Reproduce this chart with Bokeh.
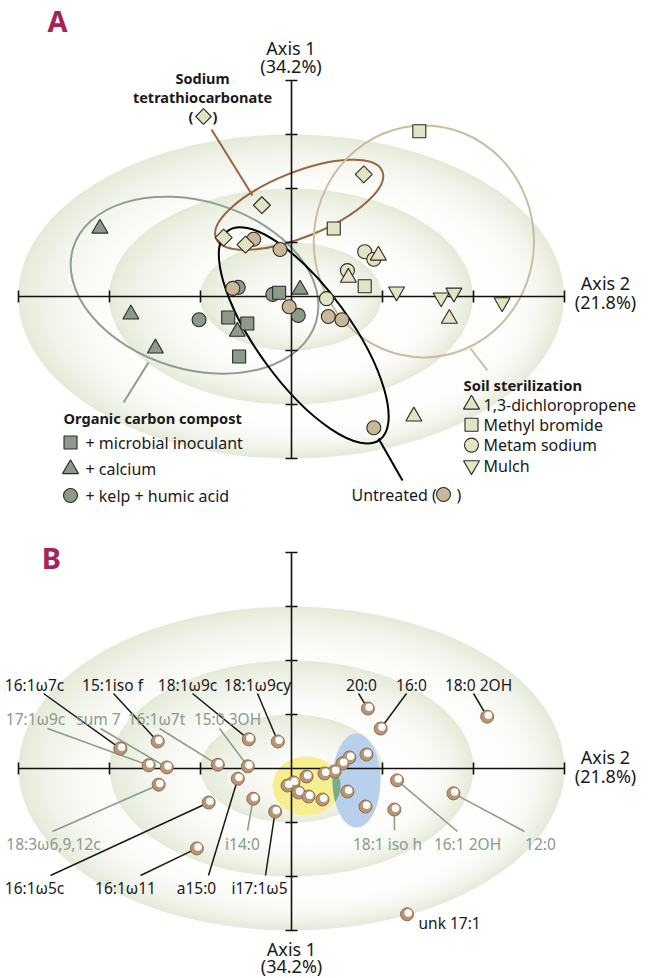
import numpy as np
from bokeh.plotting import figure
from bokeh.layouts import column
from bokeh.models import LinearAxis, FixedTicker, Range1d
from bokeh.core.properties import value
from bokeh.embed import file_html
from bokeh.resources import INLINE

# ================= DATA (ordination scores, in axis-tick units) =================
# ---- Panel A : treatments ----
tetrathio_x = [-0.32, 0.80, -0.74, -0.50]
tetrathio_y = [1.69, 2.26, 1.09, 0.96]
mbromide_x = [1.41, 0.47, 0.81]
mbromide_y = [3.06, 1.26, 0.19]
metam_x = [0.81, 0.91, 0.62, 0.39]
metam_y = [0.83, 0.69, 0.48, -0.04]
dichloro_x = [0.96, 0.63, 1.74, 1.35]
dichloro_y = [0.76, 0.35, -0.41, -2.22]
mulch_x = [1.16, 1.65, 1.79, 2.32]
mulch_y = [0.09, -0.02, 0.07, -0.11]
untreated_x = [-0.41, -0.12, -0.64, -0.02, 0.41, 0.56, 0.91]
untreated_y = [1.06, 0.87, 0.15, -0.19, -0.37, -0.43, -2.43]
inoculant_x = [-0.13, -0.69, -0.48, -0.57]
inoculant_y = [0.07, -0.39, -0.50, -1.11]
calcium_x = [-2.10, -1.76, -1.49, -0.59, 0.10]
calcium_y = [1.26, -0.33, -0.96, -0.65, 0.13]
kelp_x = [-0.58, -0.20, 0.08, -1.01]
kelp_y = [0.17, 0.04, -0.35, -0.43]

# group ellipses: centre, full width / height (axis units), angle (deg)
ell_group = ["compost", "tetrathio", "sterilization", "untreated"]
ell_cx = [-1.06, 0.09, 1.46, 0.14]
ell_cy = [0.21, 1.70, 1.02, -0.72]
ell_w = [2.79, 1.97, 2.42, 2.84]
ell_h = [3.11, 1.20, 4.30, 1.74]
ell_angle = [-17, 22, 0, -54]

# ---- Panel B : fatty acids ----
fa_names = ["16:1ω7c", "15:1iso f", "18:1ω9c", "18:1ω9cy", "20:0", "16:0", "18:0 2OH",
            "17:1ω9c", "sum 7", "16:1ω7t", "15:0 3OH",
            "18:3ω6,9,12c", "i14:0", "18:1 iso h", "16:1 2OH", "12:0",
            "16:1ω5c", "16:1ω11", "a15:0", "i17:1ω5", "unk 17:1"]
fa_x = [-1.88, -1.47, -0.47, -0.15, 0.84, 0.98, 2.15,
        -1.57, -1.37, -0.81, -0.48,
        -1.46, -0.42, 1.13, 1.16, 1.78,
        -0.91, -1.04, -0.59, -0.18, 1.27]
fa_y = [0.37, 0.50, 0.54, 0.50, 1.11, 0.74, 0.96,
        0.06, 0.02, 0.07, 0.04,
        -0.30, -0.56, -0.76, -0.22, -0.46,
        -0.63, -1.48, -0.19, -0.80, -2.70]
fa_major = [True] * 7 + [False] * 4 + [False] * 5 + [True] * 4 + [True]
cluster_x = [0.165, 0.363, 0.473, 0.560, 0.637, 0.824, -0.044, 0.022, 0.077, 0.187, 0.341, 0.615, 0.813]
cluster_y = [-0.148, -0.093, -0.056, 0.093, 0.204, 0.259, -0.315, -0.259, -0.444, -0.519, -0.574, -0.426, -0.704]
zone_cx = [0.165, 0.714]
zone_cy = [-0.324, -0.222]
zone_w = [0.747, 0.527]
zone_h = [1.093, 1.741]

# ================= LAYOUT =================
W = 654
SX, SY = 91.0, 54.0
FONT = value("Noto Sans")
BLACK = "#1a1a1a"
GREY = "#8a9a8b"
DARK = "#8b9a89"
LIGHT = "#e3e4c1"
TAN = "#c9b897"
EDGE = "#2a2a2a"
DESC = 0.29  # baseline correction (fraction of font size)


class Panel:
    def __init__(self, top, height, ox, oy, ybot, ytop):
        self.top, self.ox, self.oy = top, ox, oy
        x0 = (0 - ox) / SX
        x1 = (W - ox) / SX
        y1 = (oy - top) / SY
        y0 = (oy - top - height) / SY
        p = figure(width=W, height=height, x_range=Range1d(x0, x1), y_range=Range1d(y0, y1),
                   output_backend="svg", toolbar_location=None, x_axis_type=None, y_axis_type=None,
                   min_border=0, outline_line_color=None)
        p.background_fill_color = "white"
        p.border_fill_color = "white"
        self.p = p
        self.rings()
        self.axes(ybot, ytop)

    def X(self, px):
        return (px - self.ox) / SX

    def Y(self, py):
        return (self.oy - py) / SY

    def rings(self):
        N = 30
        g = np.array([229, 235, 217], float)
        wh = np.array([253, 253, 251], float)
        xs, ys, ws, cs = [], [], [], []
        for k in (3, 2, 1):
            for i in range(N):
                t = 1 - i / N
                d = 1 - t
                r = (k - 1) + t
                f = t ** 2.3
                c = wh + (g - wh) * f
                xs.append(0.28 * d)
                ys.append(-0.28 * d)
                ws.append(2 * r)
                cs.append("#%02x%02x%02x" % tuple(int(round(v)) for v in c))
        self.p.ellipse(x=xs, y=ys, width=ws, height=ws, fill_color=cs, line_color=None)

    def axes(self, ybot, ytop):
        common = dict(fixed_location=0, axis_line_width=1.6, axis_line_color="#111111",
                      major_tick_line_width=1.6, major_tick_line_color="#111111",
                      major_tick_in=6, major_tick_out=6, minor_tick_line_color=None,
                      major_label_text_font_size="0px", major_label_text_color=None,
                      major_label_standoff=0)
        xa = LinearAxis(ticker=FixedTicker(ticks=[-3, -2, -1, 1, 2, 3]), bounds=(-3, 3), **common)
        ya = LinearAxis(ticker=FixedTicker(ticks=[t for t in range(ybot, ytop + 1) if t != 0]),
                        bounds=(ybot, ytop), **common)
        self.p.add_layout(xa, "below")
        self.p.add_layout(ya, "left")

    def text(self, px, py, s, size, color=BLACK, bold=False, align="left"):
        r = self.p.text(x=[self.X(px)], y=[self.Y(py - DESC * size)], text=[s], text_font=FONT,
                        text_font_size=f"{size}px", text_font_style="bold" if bold else "normal",
                        text_color=color, text_align=align, text_baseline="alphabetic")
        r.level = "overlay"

    def line(self, p0, p1, color, width=2.0):
        r = self.p.line(x=[self.X(p0[0]), self.X(p1[0])], y=[self.Y(p0[1]), self.Y(p1[1])],
                        line_color=color, line_width=width)
        r.level = "overlay"

    def mark(self, x, y, marker, fill, size, angle=0.0):
        r = self.p.scatter(x=x, y=y, marker=marker, size=size, fill_color=fill, line_color=EDGE,
                           line_width=1.1, angle=angle)
        r.level = "overlay"


# ================= PANEL A =================
A = Panel(top=0, height=520, ox=290.5, oy=296, ybot=-3, ytop=4)
pa = A.p
ell_colors = {"compost": "#8e9e93", "tetrathio": "#99643f", "sterilization": "#cdbd9f", "untreated": "#000000"}
for g, cx, cy, w, h, a in zip(ell_group, ell_cx, ell_cy, ell_w, ell_h, ell_angle):
    pa.ellipse(x=[cx], y=[cy], width=[w], height=[h], angle=[a], angle_units="deg",
               fill_color=None, line_color=ell_colors[g], line_width=2)

# leader lines
A.line((211, 129), (252, 195), ell_colors["tetrathio"])
A.line((123, 402), (148, 362), ell_colors["compost"])
A.line((487, 370), (470, 348), ell_colors["sterilization"])
A.line((402, 480), (378, 438), ell_colors["untreated"])

# points
A.mark(kelp_x, kelp_y, "circle", DARK, 14)
A.mark(inoculant_x, inoculant_y, "square", DARK, 13)
A.mark(calcium_x, calcium_y, "triangle", DARK, 16)
A.mark(untreated_x, untreated_y, "circle", TAN, 14)
A.mark(metam_x, metam_y, "circle", LIGHT, 14)
A.mark(dichloro_x, dichloro_y, "triangle", LIGHT, 16)
A.mark(mbromide_x, mbromide_y, "square", LIGHT, 13)
A.mark(mulch_x, mulch_y, "inverted_triangle", LIGHT, 16)
A.mark(tetrathio_x, tetrathio_y, "square", LIGHT, 12, angle=np.pi / 4)

# texts
A.text(57, 28, "A", 29, color="#a3235a", bold=True, align="center")
A.text(290.5, 53, "Axis 1", 18, align="center")
A.text(290.5, 71, "(34.2%)", 18, align="center")
A.text(605, 288, "Axis 2", 18, align="center")
A.text(605, 307, "(21.8%)", 18, align="center")
A.text(202, 82, "Sodium", 14.5, bold=True, align="center")
A.text(202, 101, "tetrathiocarbonate", 14.5, bold=True, align="center")
A.text(193, 120, "(", 14.5, bold=True, align="right")
A.text(212, 120, ")", 14.5, bold=True, align="left")
A.mark([A.X(203)], [A.Y(116)], "square", LIGHT, 11, angle=np.pi / 4)

A.text(463, 389, "Soil sterilization", 14.8, bold=True)
soil_items = [("triangle", 16, "1,3-dichloropropene"), ("square", 13, "Methyl bromide"),
              ("circle", 14, "Metam sodium"), ("inverted_triangle", 16, "Mulch")]
for i, (m, s, lab) in enumerate(soil_items):
    yb = 409 + i * 20.3
    A.mark([A.X(471)], [A.Y(yb - 5)], m, LIGHT, s)
    A.text(483, yb, lab, 16)

A.text(63, 422, "Organic carbon compost", 14.6, bold=True)
comp_items = [("square", 13, "+ microbial inoculant"), ("triangle", 16, "+ calcium"),
              ("circle", 14, "+ kelp + humic acid")]
for i, (m, s, lab) in enumerate(comp_items):
    yb = 447 + i * 26.5
    A.mark([A.X(70)], [A.Y(yb - 5)], m, DARK, s)
    A.text(85, yb, lab, 16)

A.text(351, 499, "Untreated (", 16)
A.text(456, 499, ")", 16)
A.mark([A.X(443)], [A.Y(494)], "circle", TAN, 14)

# ================= PANEL B =================
B = Panel(top=520, height=458, ox=291, oy=768, ybot=-3, ytop=4)
pb = B.p


def ell_pts(cx, cy, w, h, n=360):
    t = np.linspace(0, 2 * np.pi, n, endpoint=False)
    return cx + w / 2 * np.cos(t), cy + h / 2 * np.sin(t)


def inside(x, y, cx, cy, w, h):
    return ((x - cx) / (w / 2)) ** 2 + ((y - cy) / (h / 2)) ** 2 <= 1


zone_colors = ["#f6ee8f", "#b9d0ec"]
for cx, cy, w, h, c in zip(zone_cx, zone_cy, zone_w, zone_h, zone_colors):
    pb.ellipse(x=[cx], y=[cy], width=[w], height=[h], fill_color=c, line_color=None)
yx, yy = ell_pts(zone_cx[0], zone_cy[0], zone_w[0], zone_h[0])
bx, by = ell_pts(zone_cx[1], zone_cy[1], zone_w[1], zone_h[1])
m1 = inside(yx, yy, zone_cx[1], zone_cy[1], zone_w[1], zone_h[1])
m2 = inside(bx, by, zone_cx[0], zone_cy[0], zone_w[0], zone_h[0])
ix = np.concatenate([yx[m1], bx[m2]])
iy = np.concatenate([yy[m1], by[m2]])
mx, my = ix.mean(), iy.mean()
order = np.argsort(np.arctan2((iy - my) * SY, (ix - mx) * SX))
pb.patch(x=ix[order], y=iy[order], fill_color="#78ad8a", line_color=None)

# label layout: (text centre x, baseline y, leader start x, leader start y) in page pixels
LAB = [(34, 689, 43, 693), (112, 689, 113, 693), (187, 689, 192, 693), (257, 689, 257, 693),
       (361, 689, 358, 693), (411, 689, 406, 693), (478, 689, 473, 693),
       (35, 723, 47, 728), (98, 723, 100, 728), (156, 723, 159, 728), (227, 723, 219, 728),
       (53, 848, 52, 831), (242, 848, 247, 830), (387, 848, 394, 830), (467, 848, 457, 831), (540, 848, 524, 831),
       (34, 892, 50, 875), (125, 892, 140, 875), (196, 892, 208, 875), (259, 892, 265, 875),
       (418, 927, None, None)]

for name, x, y, major, (tx, ty, ax, ay) in zip(fa_names, fa_x, fa_y, fa_major, LAB):
    col = BLACK if major else GREY
    if ax is not None:
        r = pb.line(x=[B.X(ax), x], y=[B.Y(ay), y], line_color=col, line_width=1.5)
        r.level = "overlay"
        B.text(tx, ty, name, 15.5, color=col, align="center")
    else:
        B.text(tx, ty, name, 15.5, color=col, align="left")

all_x = list(cluster_x) + list(fa_x)
all_y = list(cluster_y) + list(fa_y)
r = pb.scatter(x=all_x, y=all_y, marker="circle", size=13, fill_color="#b99573",
               line_color="#8e6d52", line_width=1)
r.level = "overlay"
r = pb.scatter(x=[v + 1.2 / SX for v in all_x], y=[v + 1.3 / SY for v in all_y], marker="circle",
               size=7.5, fill_color="white", line_color=None)
r.level = "overlay"

B.text(51, 565, "B", 29, color="#a3235a", bold=True, align="center")
B.text(605, 762, "Axis 2", 18, align="center")
B.text(605, 781, "(21.8%)", 18, align="center")
B.text(291, 954, "Axis 1", 18, align="center")
B.text(291, 971, "(34.2%)", 18, align="center")

layout = column(pa, pb, spacing=0)
open("out.html", "w").write(file_html(layout, INLINE))
